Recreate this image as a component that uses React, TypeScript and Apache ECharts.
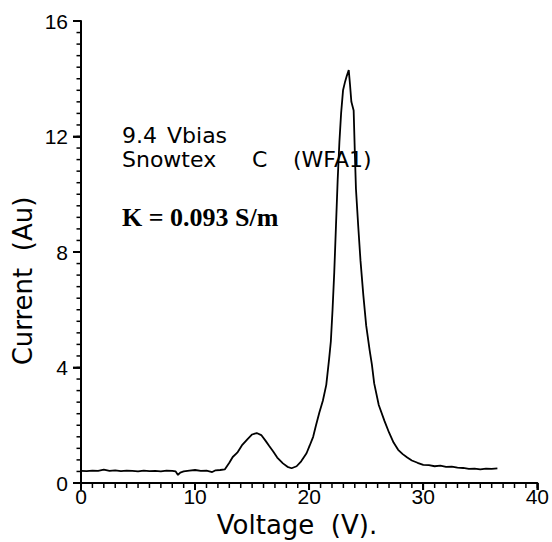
import React, { useEffect, useRef } from "react";
import * as echarts from "echarts";

const voltages = [
  0, 0.5, 1.0, 1.5, 2.0, 2.5, 3.0, 3.5, 4.0, 4.5, 5.0, 5.5, 6.0, 6.5, 7.0, 7.5, 8.0, 8.3, 8.5, 8.7,
  9.0, 9.5, 10.0, 10.5, 11.0, 11.5, 11.8, 12.2, 12.6, 13.0, 13.3, 13.7, 14.1, 14.6, 15.0, 15.4, 15.8,
  16.2, 16.5, 16.85, 17.2, 17.7, 18.1, 18.46, 18.9, 19.3, 19.77, 20.05, 20.35, 20.6, 20.9, 21.2, 21.5,
  21.75, 21.9, 22.05, 22.2, 22.35, 22.5, 22.65, 22.8, 22.97, 23.15, 23.3, 23.47, 23.58, 23.7, 23.9,
  24.0, 24.1, 24.3, 24.5, 24.75, 25.0, 25.3, 25.5, 25.7, 26.1, 26.6, 27.0, 27.4, 27.8, 28.2, 28.6,
  29.0, 29.5, 30.0, 30.5, 31.0, 31.5, 32.0, 32.5, 33.0, 33.5, 34.0, 34.5, 35.0, 35.5, 36.0, 36.5,
];
const currents = [
  0.42, 0.41, 0.43, 0.42, 0.46, 0.42, 0.44, 0.41, 0.43, 0.42, 0.4, 0.43, 0.41, 0.42, 0.4, 0.43, 0.42, 0.4, 0.28, 0.36,
  0.4, 0.43, 0.45, 0.42, 0.43, 0.38, 0.44, 0.45, 0.47, 0.7, 0.9, 1.05, 1.3, 1.52, 1.68, 1.73, 1.66,
  1.45, 1.28, 1.09, 0.88, 0.68, 0.56, 0.51, 0.58, 0.75, 1.03, 1.3, 1.6, 2.0, 2.45, 2.85, 3.4,
  4.3, 4.9, 6.0, 7.3, 8.9, 10.5, 11.8, 12.8, 13.6, 13.9, 14.1, 14.3, 13.8, 13.2, 12.9,
  11.5, 10.2, 8.9, 7.7, 6.5, 5.45, 4.6, 4.1, 3.45, 2.7, 2.15, 1.75, 1.4, 1.15, 1.0, 0.88,
  0.78, 0.7, 0.63, 0.62, 0.58, 0.6, 0.56, 0.57, 0.53, 0.52, 0.49, 0.5, 0.47, 0.5, 0.49, 0.51,
];

const xMin = 0;
const xMax = 40;
const xMajorStep = 10;
const xMinorStep = 1;
const yMin = 0;
const yMax = 16;
const yMajorStep = 4;
const yMinorStep = 0.4;

const xTitle = "Voltage  (V).";
const yTitle = "Current  (Au)";
const notes = [
  { text: "9.4", x: 122, y: 135.5 },
  { text: "Vbias", x: 167, y: 135.5 },
  { text: "Snowtex", x: 122, y: 159 },
  { text: "C", x: 252, y: 159 },
  { text: "(WFA1)", x: 293, y: 159 },
];
const noteK = "K = 0.093 S/m";

function tickValues(min: number, max: number, step: number): number[] {
  const out: number[] = [];
  const n = Math.round((max - min) / step);
  for (let i = 0; i <= n; i++) out.push(+(min + i * step).toFixed(4));
  return out;
}

export default function App() {
  const ref = useRef<HTMLDivElement>(null);
  useEffect(() => {
    if (!ref.current) return;
    const chart = echarts.init(ref.current, undefined, { renderer: "svg" });
    const data = voltages.map((v, i) => [v, currents[i]]);
    const labelFont = "Liberation Sans";
    const textFont = "DejaVu Sans";

    // tick marks: [value, kind] kind 0 = x major, 1 = x minor, 2 = y major, 3 = y minor
    const tickData: number[][] = [];
    tickValues(xMin, xMax, xMajorStep).forEach((v) => tickData.push([v, 0]));
    tickValues(xMin, xMax, xMinorStep).forEach((v) => tickData.push([v, 1]));
    tickValues(yMin, yMax, yMajorStep).forEach((v) => tickData.push([v, 2]));
    tickValues(yMin, yMax, yMinorStep).forEach((v) => tickData.push([v, 3]));

    chart.setOption({
      animation: false,
      backgroundColor: "#ffffff",
      grid: { left: 81, right: 14, top: 21, bottom: 59 },
      xAxis: {
        type: "value",
        min: xMin,
        max: xMax,
        interval: xMajorStep,
        axisLine: { show: true, onZero: false, lineStyle: { color: "#000", width: 2 } },
        axisTick: { show: true, length: 7, lineStyle: { color: "#000", width: 1.8 } },
        splitLine: { show: false },
        axisLabel: { color: "#000", fontSize: 21, fontFamily: labelFont, margin: 3 },
      },
      yAxis: {
        type: "value",
        min: yMin,
        max: yMax,
        interval: yMajorStep,
        axisLine: { show: true, onZero: false, lineStyle: { color: "#000", width: 2 } },
        axisTick: { show: true, length: 8, lineStyle: { color: "#000", width: 1.8 } },
        splitLine: { show: false },
        axisLabel: { color: "#000", fontSize: 21, fontFamily: labelFont, margin: 13 },
      },
      series: [
        {
          type: "line",
          data,
          showSymbol: false,
          symbol: "none",
          smooth: false,
          lineStyle: { color: "#000", width: 1.8 },
        },
        {
          type: "custom",
          silent: true,
          clip: false,
          data: tickData,
          encode: { x: 0, y: 1 },
          renderItem: (params: any, api: any) => {
            const v = api.value(0);
            const kind = api.value(1);
            if (kind < 2) {
              const p = api.coord([v, yMin]);
              const len = kind === 0 ? 7 : 5;
              return {
                type: "line",
                shape: { x1: p[0], y1: p[1], x2: p[0], y2: p[1] + len },
                style: { stroke: "#000", lineWidth: kind === 0 ? 1.8 : 1.5 },
              };
            }
            const p = api.coord([xMin, v]);
            const len = kind === 2 ? 8 : 4.5;
            return {
              type: "line",
              shape: { x1: p[0] - len, y1: p[1], x2: p[0], y2: p[1] },
              style: { stroke: "#000", lineWidth: kind === 2 ? 1.8 : 1.5 },
            };
          },
        },
      ],
      graphic: [
        {
          type: "text",
          x: 23,
          y: 281,
          rotation: Math.PI / 2,
          style: {
            text: yTitle,
            fill: "#000",
            font: `26px "${textFont}"`,
            textAlign: "center",
            textVerticalAlign: "middle",
          },
        },
        {
          type: "text",
          x: 297,
          y: 525,
          style: {
            text: xTitle,
            fill: "#000",
            font: `26px "${textFont}"`,
            textAlign: "center",
            textVerticalAlign: "middle",
          },
        },
        ...notes.map((n) => ({
          type: "text",
          x: n.x,
          y: n.y,
          style: { text: n.text, fill: "#000", font: `22px "${textFont}"`, textAlign: "left", textVerticalAlign: "middle" },
        })),
        {
          type: "text",
          x: 122,
          y: 217,
          style: {
            text: noteK,
            fill: "#000",
            font: `bold 26px "Liberation Serif"`,
            textAlign: "left",
            textVerticalAlign: "middle",
          },
        },
      ],
    });
    return () => chart.dispose();
  }, []);
  return (
    <div
      ref={ref}
      style={{ position: "absolute", left: 0, top: 0, width: 552, height: 542, background: "#fff" }}
    />
  );
}
